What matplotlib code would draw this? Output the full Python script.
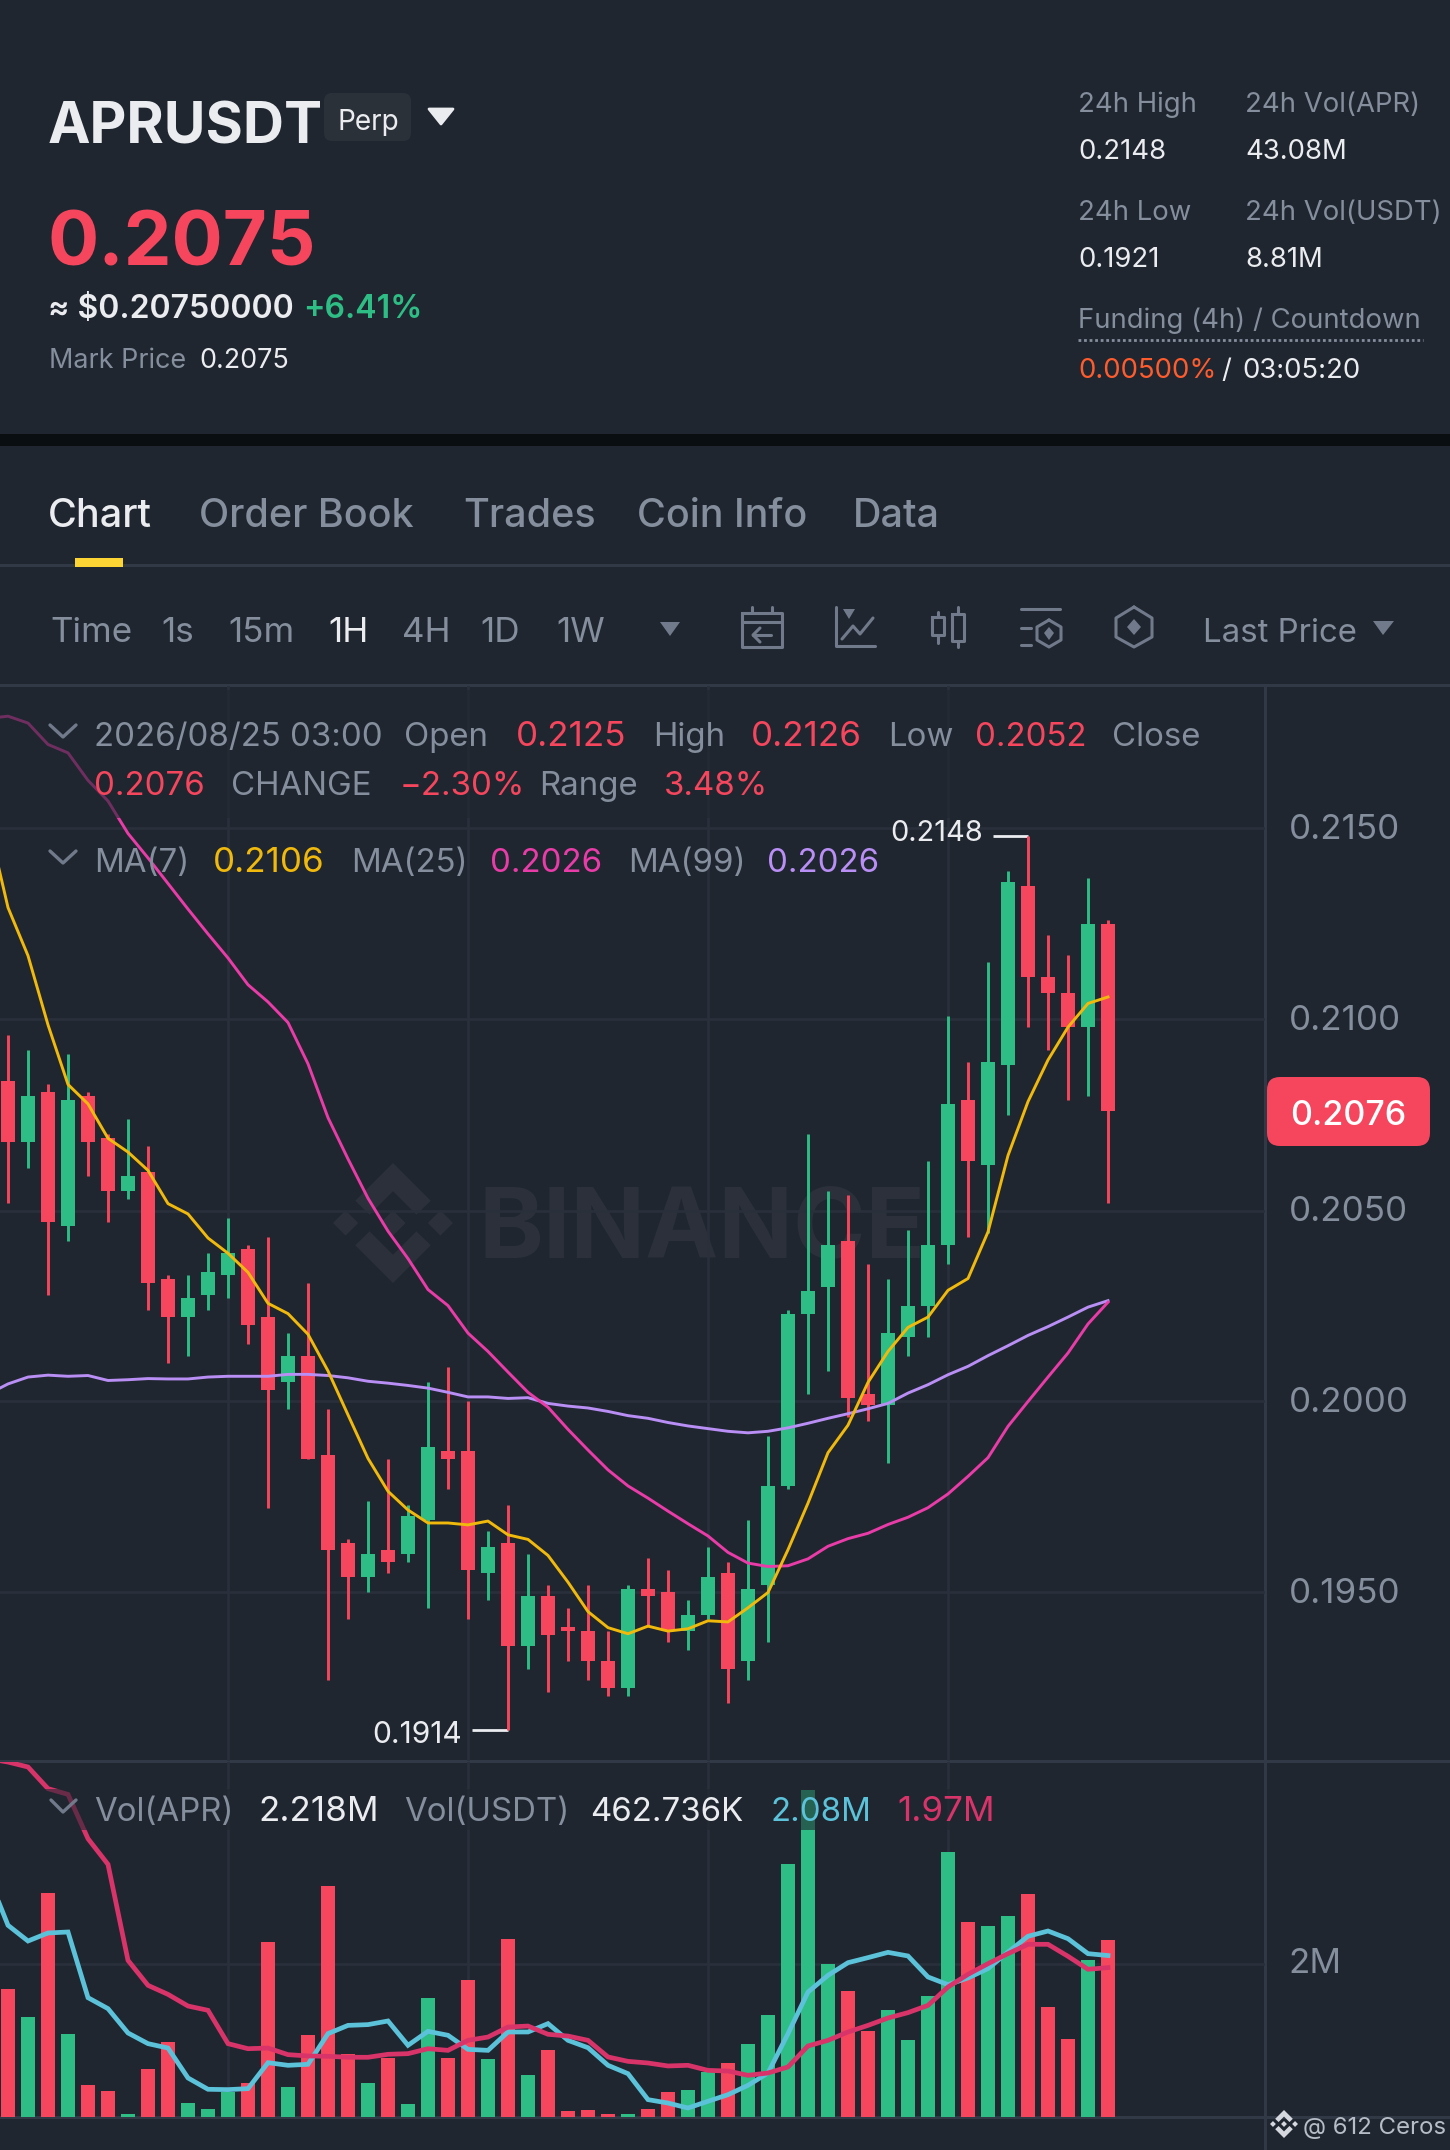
import numpy as np
import matplotlib
matplotlib.use('Agg')
import matplotlib.pyplot as plt
from matplotlib.patches import FancyBboxPatch, Polygon, Rectangle
from matplotlib.transforms import ScaledTranslation

plt.rcParams['font.family'] = ['Inter', 'DejaVu Sans']

W, H = 1450, 2150
BG = '#1F2630'
GRID = '#2A303B'
LINE = '#323946'
RED = '#F6465D'
GREEN = '#2EBD85'
GREY = '#848E9C'
ICON = '#707A8A'
WHITE = '#EAECEF'
MA7_C = '#F0B90B'
MA25_C = '#E93CA8'
MA99_C = '#B98EF5'
VOL_SHORT_C = '#5BC2DA'
VOL_LONG_C = '#D9346A'

# --- candles, 1H ---
opens = [0.2084, 0.2068, 0.2081, 0.2046, 0.2080, 0.2069, 0.2055, 0.2060, 0.2032, 0.2022,
         0.2028, 0.2033, 0.2040, 0.2022, 0.2005, 0.2012, 0.1986, 0.1963, 0.1954, 0.1961,
         0.1960, 0.1969, 0.1987, 0.1987, 0.1955, 0.1963, 0.1936, 0.1949, 0.1941, 0.1940,
         0.1932, 0.1925, 0.1951, 0.1950, 0.1940, 0.1944, 0.1955, 0.1932, 0.1952, 0.1978,
         0.2023, 0.2030, 0.2042, 0.2002, 0.1999, 0.2017, 0.2025, 0.2041, 0.2079, 0.2062,
         0.2088, 0.2135, 0.2111, 0.2107, 0.2098, 0.2125]
highs = [0.2096, 0.2092, 0.2083, 0.2091, 0.2081, 0.2070, 0.2074, 0.2067, 0.2033, 0.2033,
         0.2039, 0.2048, 0.2041, 0.2043, 0.2018, 0.2031, 0.1998, 0.1964, 0.1974, 0.1985,
         0.1973, 0.2005, 0.2009, 0.2000, 0.1966, 0.1973, 0.1960, 0.1952, 0.1946, 0.1952,
         0.1940, 0.1952, 0.1959, 0.1956, 0.1948, 0.1962, 0.1958, 0.1969, 0.1991, 0.2024,
         0.2070, 0.2055, 0.2054, 0.2036, 0.2032, 0.2045, 0.2063, 0.2101, 0.2089, 0.2115,
         0.2139, 0.2148, 0.2122, 0.2117, 0.2137, 0.2126]
lows = [0.2052, 0.2061, 0.2028, 0.2042, 0.2059, 0.2047, 0.2053, 0.2024, 0.2010, 0.2012,
        0.2024, 0.2027, 0.2015, 0.1972, 0.1998, 0.1985, 0.1927, 0.1943, 0.1950, 0.1955,
        0.1958, 0.1946, 0.1977, 0.1943, 0.1948, 0.1914, 0.1930, 0.1924, 0.1932, 0.1927,
        0.1923, 0.1923, 0.1941, 0.1937, 0.1935, 0.1943, 0.1921, 0.1927, 0.1937, 0.1977,
        0.2002, 0.2008, 0.1996, 0.1995, 0.1984, 0.2012, 0.2017, 0.2036, 0.2043, 0.2044,
        0.2075, 0.2098, 0.2092, 0.2079, 0.2080, 0.2052]
closes = [0.2068, 0.2080, 0.2047, 0.2079, 0.2068, 0.2055, 0.2059, 0.2031, 0.2022, 0.2027,
          0.2034, 0.2039, 0.2020, 0.2003, 0.2012, 0.1985, 0.1961, 0.1954, 0.1960, 0.1958,
          0.1970, 0.1988, 0.1985, 0.1956, 0.1962, 0.1936, 0.1949, 0.1939, 0.1940, 0.1932,
          0.1925, 0.1951, 0.1949, 0.1940, 0.1944, 0.1954, 0.1930, 0.1951, 0.1978, 0.2023,
          0.2029, 0.2041, 0.2001, 0.1999, 0.2018, 0.2025, 0.2041, 0.2078, 0.2063, 0.2089,
          0.2136, 0.2111, 0.2107, 0.2098, 0.2125, 0.2076]

# moving averages start one hour before the first full candle
ma7 = [0.21518, 0.21293, 0.21167, 0.20986, 0.20830, 0.20779, 0.20689, 0.20653, 0.20605, 0.20518,
       0.20491, 0.20428, 0.20388, 0.20338, 0.20257, 0.20230, 0.20176, 0.20080, 0.19965, 0.19851,
       0.19765, 0.19716, 0.19682, 0.19682, 0.19677, 0.19687, 0.19651, 0.19639, 0.19597, 0.19527,
       0.19450, 0.19408, 0.19392, 0.19412, 0.19399, 0.19405, 0.19426, 0.19423, 0.19460, 0.19500,
       0.19612, 0.19734, 0.19866, 0.19938, 0.20050, 0.20131, 0.20194, 0.20221, 0.20291, 0.20322,
       0.20444, 0.20644, 0.20785, 0.20894, 0.20980, 0.21042, 0.21059]
ma25 = [0.21788, 0.21794, 0.21776, 0.21720, 0.21698, 0.21626, 0.21572, 0.21487, 0.21423, 0.21356,
        0.21289, 0.21224, 0.21161, 0.21091, 0.21046, 0.20992, 0.20884, 0.20743, 0.20635, 0.20532,
        0.20446, 0.20374, 0.20293, 0.20251, 0.20179, 0.20131, 0.20077, 0.20024, 0.19985, 0.19927,
        0.19873, 0.19821, 0.19779, 0.19747, 0.19713, 0.19680, 0.19648, 0.19605, 0.19577, 0.19568,
        0.19570, 0.19588, 0.19621, 0.19641, 0.19655, 0.19678, 0.19697, 0.19722, 0.19758, 0.19804,
        0.19853, 0.19935, 0.20000, 0.20064, 0.20127, 0.20203, 0.20260]
ma99 = [0.20019, 0.20046, 0.20064, 0.20069, 0.20066, 0.20068, 0.20055, 0.20057, 0.20060, 0.20059,
        0.20059, 0.20064, 0.20066, 0.20066, 0.20066, 0.20071, 0.20071, 0.20068, 0.20062, 0.20053,
        0.20048, 0.20042, 0.20035, 0.20024, 0.20012, 0.20012, 0.20008, 0.20010, 0.19995, 0.19988,
        0.19983, 0.19974, 0.19963, 0.19956, 0.19945, 0.19936, 0.19929, 0.19922, 0.19918, 0.19922,
        0.19931, 0.19943, 0.19956, 0.19968, 0.19981, 0.19995, 0.20022, 0.20044, 0.20070, 0.20092,
        0.20120, 0.20146, 0.20173, 0.20196, 0.20221, 0.20247, 0.20264]

# volume in millions
volumes = [1.773, 1.518, 2.652, 1.370, 0.903, 0.848, 0.642, 1.052, 1.294, 0.742,
           0.685, 0.839, 0.924, 2.203, 0.885, 1.361, 2.715, 1.182, 0.924, 1.152,
           0.727, 1.697, 1.145, 1.855, 1.136, 2.230, 0.997, 1.224, 0.667, 0.673,
           0.639, 0.639, 0.685, 0.839, 0.861, 1.021, 1.100, 1.276, 1.536, 2.915,
           3.588, 2.003, 1.761, 1.397, 1.588, 1.312, 1.712, 3.018, 2.382, 2.345,
           2.442, 2.639, 1.612, 1.318, 2.042, 2.218]
vol_short = [2.809, 2.355, 2.212, 2.285, 2.294, 1.697, 1.597, 1.376, 1.279, 1.239,
             0.967, 0.864, 0.861, 0.870, 1.106, 1.082, 1.091, 1.370, 1.445, 1.452,
             1.485, 1.264, 1.391, 1.355, 1.227, 1.218, 1.385, 1.385, 1.461, 1.309,
             1.242, 1.082, 1.006, 0.770, 0.739, 0.694, 0.755, 0.815, 0.900, 1.012,
             1.370, 1.748, 1.900, 2.015, 2.061, 2.109, 2.076, 1.885, 1.815, 1.876,
             1.961, 2.112, 2.255, 2.303, 2.233, 2.097, 2.080]
vol_long = [3.870, 3.839, 3.794, 3.597, 3.545, 3.142, 2.909, 2.036, 1.809, 1.727,
            1.621, 1.582, 1.279, 1.233, 1.239, 1.179, 1.167, 1.164, 1.155, 1.155,
            1.182, 1.188, 1.233, 1.218, 1.309, 1.339, 1.430, 1.439, 1.364, 1.348,
            1.309, 1.158, 1.118, 1.103, 1.076, 1.082, 1.036, 1.030, 0.991, 1.012,
            1.067, 1.258, 1.309, 1.385, 1.445, 1.512, 1.561, 1.627, 1.794, 1.909,
            2.006, 2.097, 2.182, 2.182, 2.073, 1.955, 1.970]

price_ticks = [0.1950, 0.2000, 0.2050, 0.2100, 0.2150]
time_grid = [11, 23, 35, 47]

tabs = [('Chart', 48, WHITE), ('Order Book', 199, GREY), ('Trades', 463, GREY),
        ('Coin Info', 637, GREY), ('Data', 853, GREY)]
intervals = [('Time', 50, GREY), ('1s', 161, GREY), ('15m', 228, GREY), ('1H', 328, WHITE),
             ('4H', 402, GREY), ('1D', 480, GREY), ('1W', 556, GREY)]

fig = plt.figure(figsize=(W / 100, H / 100), dpi=100, facecolor=BG)


def px_axes(x0, y0, x1, y1, zorder):
    ax = fig.add_axes([x0 / W, 1 - y1 / H, (x1 - x0) / W, (y1 - y0) / H], zorder=zorder)
    ax.patch.set_alpha(0)
    return ax


def txt(ax, x, y, s, size, color, **kw):
    # size is given in pixels, y is the baseline
    return ax.text(x, y, s, fontsize=size * 0.72, color=color, va='baseline', **kw)


def poly(ax, pts, **kw):
    ax.add_patch(Polygon(pts, closed=True, **kw))


def binance_logo(ax, cx, cy, r, color):
    d = 0.21
    for ox in (-0.79, 0, 0.79):
        poly(ax, [(cx + (ox - d) * r, cy), (cx + ox * r, cy - d * r),
                  (cx + (ox + d) * r, cy), (cx + ox * r, cy + d * r)], fc=color, ec='none')
    for s in (-1, 1):
        poly(ax, [(cx, cy + s * r), (cx + 0.63 * r, cy + s * 0.37 * r), (cx + 0.39 * r, cy + s * 0.14 * r),
                  (cx, cy + s * 0.53 * r), (cx - 0.39 * r, cy + s * 0.14 * r), (cx - 0.63 * r, cy + s * 0.37 * r)],
             fc=color, ec='none')


# --- background layer ---
bg = px_axes(0, 0, W, H, 0)
bg.set_xlim(0, W)
bg.set_ylim(H, 0)
bg.axis('off')
bg.add_patch(Rectangle((0, 434), W, 12, fc='#0B0E11', ec='none'))
bg.add_patch(Rectangle((0, 564), W, 3, fc=LINE, ec='none'))
bg.add_patch(Rectangle((0, 684), W, 3, fc=LINE, ec='none'))
bg.add_patch(Rectangle((75, 558), 48, 9, fc='#FCD535', ec='none'))
bg.add_patch(Rectangle((0, 1760), W, 3, fc=LINE, ec='none'))
bg.add_patch(Rectangle((0, 2116), W, 3, fc=LINE, ec='none'))
bg.add_patch(Rectangle((1264, 687), 3, H - 687, fc=LINE, ec='none'))
binance_logo(bg, 393, 1223, 60, '#2B303A')
bg.text(479, 1258, 'BINANCE', fontsize=98 * 0.72, color='#2B303A', fontweight='bold', va='baseline')

# --- price panel ---
xlim = (-0.4, 62.85)
ax = px_axes(0, 686, 1265, 1761, 1)
ax.set_xlim(*xlim)
ax.set_ylim(0.2150 - (1761 - 828.5) / 38200, 0.2150 + (828.5 - 686) / 38200)
x = np.arange(len(opens))
opens_a, closes_a = np.array(opens), np.array(closes)
colors = [GREEN if c > o else RED for o, c in zip(opens, closes)]
ax.vlines(x, lows, highs, colors=colors, lw=2.1, zorder=3)
ax.bar(x, np.abs(closes_a - opens_a), bottom=np.minimum(opens_a, closes_a), width=0.7, color=colors, zorder=3)
xma = np.arange(-1, len(opens))
ax.plot(xma, ma99, color=MA99_C, lw=2.1, zorder=4)
ax.plot(xma, ma25, color=MA25_C, lw=2.1, zorder=4)
ax.plot(xma, ma7, color=MA7_C, lw=2.1, zorder=4)

ax.set_xticks(time_grid)
ax.set_xticklabels([])
ax.yaxis.tick_right()
ax.set_yticks(price_ticks)
ax.set_yticklabels([f'{p:.4f}' for p in price_ticks])
ax.tick_params(length=0, labelsize=35 * 0.72, labelcolor=GREY, pad=17)
ax.grid(True, color=GRID, lw=2.0, zorder=0)
ax.set_axisbelow(True)
for s in ax.spines.values():
    s.set_visible(False)
lift = ScaledTranslation(0, 2 / 100, fig.dpi_scale_trans)
for t in ax.get_yticklabels():
    t.set_transform(t.get_transform() + lift)

# high and low markers
i_hi, i_lo = int(np.argmax(highs)), int(np.argmin(lows))
ax.hlines(highs[i_hi], i_hi - 1.75, i_hi, color=WHITE, lw=2)
ax.text(i_hi - 2.25, highs[i_hi] + 0.00006, f'{highs[i_hi]:.4f}', ha='right', va='center', fontsize=29 * 0.72, color=WHITE)
ax.hlines(lows[i_lo], i_lo - 1.8, i_lo, color=WHITE, lw=2)
ax.text(i_lo - 2.3, lows[i_lo] - 0.00012, f'{lows[i_lo]:.4f}', ha='right', va='center', fontsize=30 * 0.72, color=WHITE)

# --- volume panel ---
av = px_axes(0, 1762, 1265, 2117, 1)
av.set_xlim(*xlim)
av.set_ylim(2 + (642 - 1100) / 330, 2 + (642 - 35) / 330)
av.bar(x, volumes, width=0.7, color=colors, zorder=3)
av.plot(xma, vol_short, color=VOL_SHORT_C, lw=3.4, zorder=4, solid_joinstyle='miter')
av.plot(xma, vol_long, color=VOL_LONG_C, lw=3.4, zorder=5, solid_joinstyle='miter')
av.set_xticks(time_grid)
av.set_xticklabels([])
av.yaxis.tick_right()
av.set_yticks([2])
av.set_yticklabels(['2M'])
av.tick_params(length=0, labelsize=35 * 0.72, labelcolor=GREY, pad=17)
av.grid(True, color=GRID, lw=2.0, zorder=0)
av.set_axisbelow(True)
for s in av.spines.values():
    s.set_visible(False)
lift_v = ScaledTranslation(0, 4 / 100, fig.dpi_scale_trans)
for t in av.get_yticklabels():
    t.set_transform(t.get_transform() + lift_v)

# --- overlay: header, toolbar, legends ---
top = px_axes(0, 0, W, H, 5)
top.set_xlim(0, W)
top.set_ylim(H, 0)
top.axis('off')

txt(top, 48, 144, 'APRUSDT', 57, WHITE, fontweight='bold')
top.add_patch(FancyBboxPatch((324, 93), 87, 48, boxstyle='round,pad=0,rounding_size=8', fc='#2B3139', ec='none'))
txt(top, 338, 130, 'Perp', 28, WHITE)
poly(top, [(429, 109), (453, 109), (441, 124)], fc=WHITE, ec=WHITE, lw=2, joinstyle='round')
txt(top, 48, 265, '0.2075', 76, RED, fontweight='bold')
txt(top, 48, 318, '≈ $0.20750000', 32, WHITE, fontweight='semibold')
txt(top, 303, 318, '+6.41%', 32, GREEN, fontweight='semibold')
txt(top, 49, 368, 'Mark Price', 27, GREY)
txt(top, 199, 368, '0.2075', 27, WHITE)

txt(top, 1078, 112, '24h High', 27.5, GREY)
txt(top, 1245, 112, '24h Vol(APR)', 27.5, GREY)
txt(top, 1078, 159, '0.2148', 27.5, WHITE)
txt(top, 1245, 159, '43.08M', 27.5, WHITE)
txt(top, 1078, 220, '24h Low', 27.5, GREY)
txt(top, 1245, 220, '24h Vol(USDT)', 27.5, GREY)
txt(top, 1078, 267, '0.1921', 27.5, WHITE)
txt(top, 1245, 267, '8.81M', 27.5, WHITE)
txt(top, 1078, 328, 'Funding (4h) / Countdown', 27.5, GREY)
top.plot([1078, 1423], [340, 340], color=GREY, lw=2, linestyle=(0, (1, 1)))
txt(top, 1078, 378, '0.00500%', 27.5, '#FF5C2E')
txt(top, 1221, 378, '/', 27.5, WHITE)
txt(top, 1242, 378, '03:05:20', 27.5, WHITE)

for label, lx, c in tabs:
    txt(top, lx, 527, label, 39.5, c, fontweight='medium')
for label, lx, c in intervals:
    txt(top, lx, 642, label, 35, c)
poly(top, [(660, 622), (680, 622), (670, 636)], fc=ICON, ec='none')
txt(top, 1203, 642, 'Last Price', 33, GREY)
poly(top, [(1373, 621), (1394, 621), (1383, 635)], fc=ICON, ec='none')

# toolbar icons
ik = dict(color=ICON, lw=2.2, solid_capstyle='round', solid_joinstyle='round')
top.plot([742, 782, 782, 742, 742], [613, 613, 647, 647, 613], **ik)
top.plot([742, 782], [622, 622], **ik)
top.plot([752, 752], [607, 613], **ik)
top.plot([772, 772], [607, 613], **ik)
top.plot([771, 753], [635, 635], **ik)
top.plot([760, 753, 760], [628, 635, 642], **ik)
top.plot([836, 836, 875], [607, 646, 646], **ik)
poly(top, [(843, 609), (855, 609), (849, 619)], fc=ICON, ec='none')
top.plot([842, 853, 860, 873], [639, 626, 634, 618], **ik)
top.plot([938, 938], [612, 617], **ik)
top.plot([938, 938], [635, 643], **ik)
top.plot([932, 944, 944, 932, 932], [617, 617, 635, 635, 617], **ik)
top.plot([958, 958], [607, 614], **ik)
top.plot([958, 958], [641, 647], **ik)
top.plot([952, 964, 964, 952, 952], [614, 614, 641, 641, 614], **ik)
top.plot([1021, 1060], [609, 609], **ik)
top.plot([1021, 1031], [628, 628], **ik)
top.plot([1021, 1031], [645, 645], **ik)
top.plot([1049, 1061, 1061, 1049, 1037, 1037, 1049], [620, 627, 640, 647, 640, 627, 620], **ik)
poly(top, [(1049, 627), (1054, 633), (1049, 640), (1044, 633)], fc=ICON, ec='none')
top.plot([1134, 1152, 1152, 1134, 1116, 1116, 1134], [607, 618, 637, 647, 637, 618, 607], **ik)
poly(top, [(1134, 619), (1141, 627), (1134, 635), (1127, 627)], fc=ICON, ec='none')

# legend backdrops dim whatever runs beneath them
top.add_patch(Rectangle((0, 690), 1230, 128, fc=BG, ec='none', alpha=0.6))
top.add_patch(Rectangle((0, 1789), 1010, 41, fc=BG, ec='none', alpha=0.6))

chev = dict(color=ICON, lw=2.4, solid_capstyle='round', solid_joinstyle='round')
top.plot([50, 63, 76], [725, 737, 725], **chev)
top.plot([50, 63, 76], [851, 863, 851], **chev)
top.plot([51, 63, 76], [1800, 1812, 1800], **chev)

row1 = [('2026/08/25 03:00', 94, GREY), ('Open', 404, GREY), ('0.2125', 516, RED), ('High', 653, GREY),
        ('0.2126', 751, RED), ('Low', 888, GREY), ('0.2052', 975, RED), ('Close', 1112, GREY)]
row2 = [('0.2076', 94, RED), ('CHANGE', 231, GREY), ('−2.30%', 400, RED), ('Range', 539, GREY), ('3.48%', 664, RED)]
row3 = [('MA(7)', 94, GREY), ('0.2106', 213, MA7_C), ('MA(25)', 351, GREY), ('0.2026', 490, MA25_C),
        ('MA(99)', 628, GREY), ('0.2026', 767, MA99_C)]
row4 = [('Vol(APR)', 94, GREY), ('2.218M', 258, WHITE), ('Vol(USDT)', 404, GREY), ('462.736K', 590, WHITE),
        ('2.08M', 771, VOL_SHORT_C), ('1.97M', 897, VOL_LONG_C)]
for row, by in ((row1, 746), (row2, 795), (row3, 872), (row4, 1821)):
    for label, lx, c in row:
        # Inter sets the digit 1 narrow, the reference does not
        narrow = '1' in label and label[0] in '012' and '/' not in label
        txt(top, lx, by, label, 35 if narrow else 33, c)

# last price tag
top.add_patch(FancyBboxPatch((1267, 1077), 163, 69, boxstyle='round,pad=0,rounding_size=13', fc=RED, ec='none'))
txt(top, 1348, 1125, f'{closes[-1]:.4f}', 34, 'white', ha='center', fontweight='medium')

# footer
binance_logo(top, 1284, 2124, 14, '#D5D9DF')
txt(top, 1303, 2134, '@ 612 Ceros', 24, '#B7BDC6')

fig.savefig('out.png', dpi=100, facecolor=BG)
